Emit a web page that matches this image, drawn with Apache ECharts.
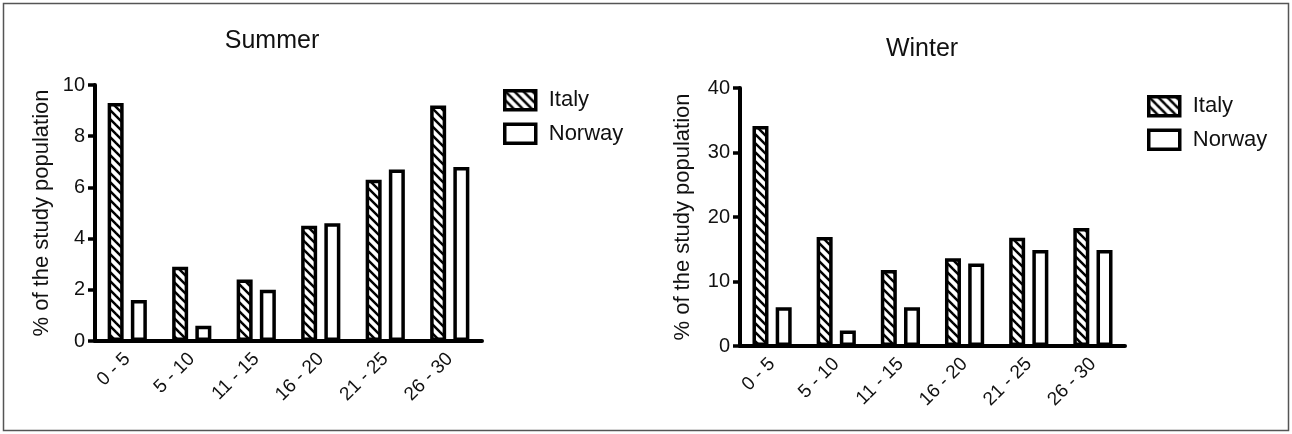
<!DOCTYPE html>
<html>
<head>
<meta charset="utf-8">
<script src="https://cdn.jsdelivr.net/npm/echarts@6/dist/echarts.min.js"></script>
<style>html,body{margin:0;padding:0;background:#fff}#c{width:1292px;height:434px}</style>
</head>
<body>
<div id="c"></div>
<script>
// ---- data ----
const categories = ['0 - 5', '5 - 10', '11 - 15', '16 - 20', '21 - 25', '26 - 30'];
const summerItaly  = [9.3, 2.9, 2.4, 4.5, 6.3, 9.2];
const summerNorway = [1.6, 0.6, 2.0, 4.6, 6.7, 6.8];
const winterItaly  = [34.1, 16.9, 11.8, 13.6, 16.8, 18.3];
const winterNorway = [6.0, 2.4, 6.0, 12.8, 14.9, 14.9];
const summerTicks = [0, 2, 4, 6, 8, 10];
const winterTicks = [0, 10, 20, 30, 40];

// ---- hatch pattern ----
function hatch() {
  const s = 9;
  const c = document.createElement('canvas');
  c.width = s; c.height = s;
  const g = c.getContext('2d');
  g.fillStyle = '#fff'; g.fillRect(0, 0, s, s);
  g.strokeStyle = '#000'; g.lineWidth = 2.5;
  for (let k = -1; k <= 1; k++) {
    g.beginPath();
    g.moveTo(-2, -2 + k * s);
    g.lineTo(s + 2, s + 2 + k * s);
    g.stroke();
  }
  return { image: c, repeat: 'repeat' };
}
const pat = hatch();
const FONT = '"Liberation Sans", Arial, Helvetica, sans-serif';

const chart = echarts.init(document.getElementById('c'), null, { renderer: 'canvas' });

function xAxis(gi) {
  return {
    type: 'category', gridIndex: gi, data: categories,
    axisLine: { lineStyle: { color: '#000', width: 4 } },
    axisTick: { alignWithLabel: true, length: 8, lineStyle: { color: '#000', width: 3.5 } },
    axisLabel: { rotate: 45, margin: 15, color: '#111', fontSize: 19, fontFamily: FONT, interval: 0 }
  };
}
function yAxis(gi, max, interval, gap) {
  return {
    type: 'value', gridIndex: gi, min: 0, max: max, interval: interval,
    name: '% of the study population', nameLocation: 'middle', nameGap: gap,
    nameTextStyle: { color: '#111', fontSize: 22, fontFamily: FONT },
    axisLine: { show: true, lineStyle: { color: '#000', width: 4 } },
    axisTick: { show: true, length: 7, lineStyle: { color: '#000', width: 3.5 } },
    axisLabel: { color: '#111', fontSize: 20, fontFamily: FONT, margin: 10 },
    splitLine: { show: false }
  };
}
function bar(name, data, gi, hatched) {
  return {
    type: 'bar', name: name, data: data, xAxisIndex: gi, yAxisIndex: gi,
    barWidth: 16, barGap: '45%',
    itemStyle: { color: hatched ? pat : '#fff', borderColor: '#000', borderWidth: 3.5 },
    emphasis: { disabled: true }, animation: false
  };
}
function legend(left, top) {
  return {
    left: left, top: top, orient: 'vertical', icon: 'rect',
    itemWidth: 31, itemHeight: 19, itemGap: 11,
    data: ['Italy', 'Norway'],
    itemStyle: { borderColor: '#000', borderWidth: 3.5 },
    textStyle: { color: '#111', fontSize: 22, fontFamily: FONT, padding: [0, 0, 0, 8] },
    selectedMode: false
  };
}

chart.setOption({
  backgroundColor: '#fff',
  animation: false,
  title: [
    { text: 'Summer', left: 267, top: 24, textAlign: 'center',
      textStyle: { color: '#111', fontSize: 25, fontWeight: 'normal', fontFamily: FONT } },
    { text: 'Winter', left: 917, top: 32, textAlign: 'center',
      textStyle: { color: '#111', fontSize: 25, fontWeight: 'normal', fontFamily: FONT } }
  ],
  legend: [legend(498, 84), legend(1142, 90)],
  grid: [
    { left: 95, top: 85, width: 387, height: 256 },
    { left: 740, top: 88, width: 385, height: 258 }
  ],
  xAxis: [xAxis(0), xAxis(1)],
  yAxis: [yAxis(0, 10, 2, 42), yAxis(1, 40, 10, 46)],
  series: [
    bar('Italy', summerItaly, 0, true),
    bar('Norway', summerNorway, 0, false),
    bar('Italy', winterItaly, 1, true),
    bar('Norway', winterNorway, 1, false)
  ],
  graphic: [{
    type: 'rect', silent: true,
    shape: { x: 3.5, y: 3.5, width: 1285, height: 427 },
    style: { fill: null, stroke: '#555', lineWidth: 1.5 }
  }]
});
</script>
</body>
</html>
